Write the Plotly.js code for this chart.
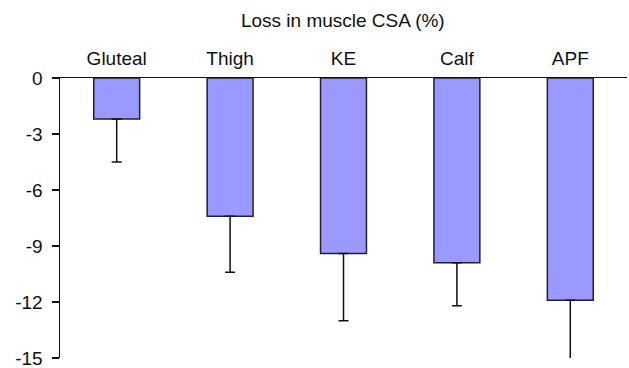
<!DOCTYPE html>
<html>
<head>
<meta charset="utf-8">
<script src="https://cdn.plot.ly/plotly-3.0.1.min.js"></script>
<style>html,body{margin:0;padding:0;background:#fff;}#chart{width:629px;height:368px;}</style>
</head>
<body>
<div id="chart"></div>
<script>
const categories = ["Gluteal", "Thigh", "KE", "Calf", "APF"];
const lossValues = [-2.2, -7.4, -9.4, -9.9, -11.9];
const errorMinus = [2.3, 3.0, 3.6, 2.3, 3.2];
const errorPlus = [0, 0, 0, 0, 0];
const yTickVals = [0, -3, -6, -9, -12, -15];
const yTickText = ["0", "-3", "-6", "-9", "-12", "-15"];
const chartTitle = "Loss in muscle CSA (%)";

const trace = {
  type: "bar",
  x: categories,
  y: lossValues,
  width: 0.405,
  marker: {color: "#9999ff", line: {color: "#222222", width: 1.5}},
  error_y: {type: "data", symmetric: false, array: errorPlus, arrayminus: errorMinus,
            color: "#111111", thickness: 1.5, width: 5},
  hoverinfo: "none"
};

const layout = {
  width: 629, height: 368,
  margin: {l: 60, r: 2, t: 78, b: 10},
  paper_bgcolor: "#ffffff", plot_bgcolor: "#ffffff",
  font: {family: "Liberation Sans, Arial, sans-serif", size: 19, color: "#111111"},
  title: {text: chartTitle, x: 0.545, xanchor: "center", y: 0.945, yanchor: "middle",
          font: {size: 19, color: "#111111"}},
  showlegend: false,
  xaxis: {
    side: "top", range: [-0.5, 4.5], showline: true, linecolor: "#111111", linewidth: 1.5,
    showgrid: false, zeroline: false, ticks: "", ticklen: 0, tickfont: {size: 19},
    ticklabelstandoff: 4, ticklabeloverflow: "allow", fixedrange: true
  },
  yaxis: {
    range: [-15, 0], showline: true, linecolor: "#111111", linewidth: 1.5,
    showgrid: false, zeroline: false, ticks: "outside", ticklen: 7, tickwidth: 1.5,
    tickcolor: "#111111", tickvals: yTickVals, ticktext: yTickText, tickfont: {size: 19},
    ticklabelstandoff: 5, ticklabeloverflow: "allow", fixedrange: true
  }
};

Plotly.newPlot("chart", [trace], layout, {displayModeBar: false, staticPlot: true});
</script>
</body>
</html>
